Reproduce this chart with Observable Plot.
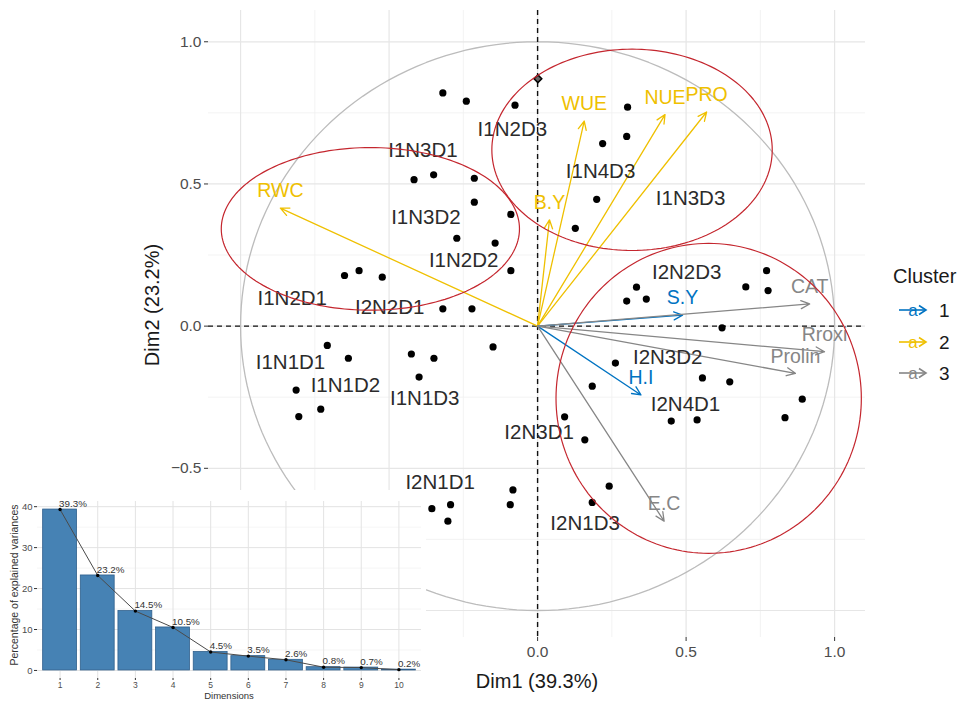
<!DOCTYPE html>
<html><head><meta charset="utf-8">
<script src="https://cdn.jsdelivr.net/npm/d3@7"></script>
<script src="https://cdn.jsdelivr.net/npm/@observablehq/plot@0.6"></script>
<style>
body{margin:0;background:#fff;font-family:"Liberation Sans",Arial,sans-serif;}
#wrap{position:relative;width:963px;height:702px;overflow:hidden;background:#fff;}
#main{position:absolute;left:0;top:0;}
#inset{position:absolute;left:0;top:490px;width:426px;height:212px;background:#fff;overflow:hidden;}
.t{position:absolute;white-space:nowrap;color:#1a1a1a;line-height:1;}
.rot{transform:translate(-50%,-50%) rotate(-90deg);}
.ctr{transform:translate(-50%,-50%);}
</style></head><body>
<div id="wrap">
  <div id="main"></div>
  <div class="t ctr" style="left:537px;top:681px;font-size:20px;">Dim1 (39.3%)</div>
  <div class="t rot" style="left:152px;top:305px;font-size:20px;">Dim2 (23.2%)</div>
  <div id="legend"></div>
  <div id="inset">
    <div id="insetPlot"></div>
    <div class="t ctr" style="left:229px;top:206px;font-size:9.5px;color:#333;">Dimensions</div>
    <div class="t rot" style="left:14px;top:95px;font-size:10.5px;color:#333;">Percentage of explained variances</div>
  </div>
</div>
<script>
// ---------- main biplot data ----------
const pointX = [-0.319,-0.240,-0.076,-0.416,-0.350,-0.213,-0.213,-0.090,-0.272,-0.143,-0.090,-0.650,-0.601,-0.523,-0.319,-0.221,0.127,0.303,0.300,0.219,0.199,0.771,0.701,0.776,0.333,0.300,0.366,0.621,-0.708,-0.637,-0.813,-0.730,-0.804,-0.425,-0.349,-0.399,-0.150,-0.356,-0.293,-0.302,-0.083,-0.092,0.262,0.184,0.555,0.647,0.891,0.833,0.450,0.537,0.091,0.159,0.241,0.184];
const pointY = [0.820,0.791,0.777,0.515,0.532,0.520,0.436,0.393,0.309,0.292,0.195,0.178,0.195,0.172,0.061,0.061,0.344,0.770,0.667,0.642,0.446,0.195,0.138,0.125,0.137,0.088,0.095,-0.006,-0.068,-0.113,-0.225,-0.292,-0.318,-0.098,-0.113,-0.179,-0.073,-0.642,-0.628,-0.686,-0.576,-0.628,-0.130,-0.211,-0.182,-0.196,-0.257,-0.322,-0.334,-0.330,-0.319,-0.400,-0.563,-0.620];

const labelNames = ["I1N2D3","I1N3D1","I1N3D2","I1N2D2","I1N2D1","I2N2D1","I1N4D3","I1N3D3","I2N2D3","I2N3D2","I2N4D1","I1N1D1","I1N1D2","I1N1D3","I2N3D1","I2N1D1","I2N1D3"];
const labelX = [-0.085,-0.386,-0.376,-0.249,-0.826,-0.498,0.212,0.515,0.502,0.438,0.498,-0.832,-0.647,-0.380,0.005,-0.328,0.160];
const labelY = [0.691,0.619,0.383,0.230,0.096,0.067,0.543,0.450,0.190,-0.111,-0.274,-0.129,-0.210,-0.253,-0.374,-0.549,-0.695];

const varNames = ["RWC","B.Y","WUE","NUE","PRO","S.Y","H.I","CAT","Rroxi","Prolin","E.C"];
const varX = [-0.866,0.040,0.157,0.429,0.569,0.488,0.348,0.916,0.966,0.868,0.426];
const varY = [0.415,0.374,0.721,0.744,0.753,0.0385,-0.242,0.078,-0.090,-0.166,-0.686];
const varCluster = ["2","2","2","2","2","1","1","3","3","3","3"];
const clusterNames = ["1","2","3"];
const clusterColors = ["#0073C2","#EFC000","#868686"];

const markerX = [0.001], markerY = [0.870];

const ellCx = [-0.563,0.318,0.576];
const ellCy = [0.342,0.620,-0.254];
const ellRx = [0.502,0.472,0.514];
const ellRy = [0.286,0.354,0.545];

const gridMajor = [-1,-0.5,0,0.5,1];
const gridMinor = [-0.75,-0.25,0.25,0.75];
const xTickValues = [0,0.5,1];          // -0.5 and -1.0 lie under the inset
const yTickValues = [-0.5,0,0.5,1];     // -1.0 lies under the inset

// ---------- scree data ----------
const dims = [1,2,3,4,5,6,7,8,9,10];
const explained = [39.3,23.2,14.5,10.5,4.5,3.5,2.6,0.8,0.7,0.2];
const screeTicks = [0,10,20,30,40];
const screeMinor = [5,15,25,35];

// ---------- build tables ----------
const points = pointX.map((x,i)=>({x, y:pointY[i]}));
const labels = labelNames.map((n,i)=>({name:n, x:labelX[i], y:labelY[i]}));
const vars = varNames.map((n,i)=>({name:n, x:varX[i], y:varY[i], cluster:varCluster[i]}));
const markers = markerX.map((x,i)=>({x, y:markerY[i]}));
const circle = d3.range(0, 361, 2).map(a=>({x:Math.cos(a*Math.PI/180), y:Math.sin(a*Math.PI/180)}));
const ellipses = [];
ellCx.forEach((cx,k)=>{
  d3.range(0,361,2).forEach(a=>{
    const t=a*Math.PI/180;
    ellipses.push({k, x:cx+ellRx[k]*Math.cos(t), y:ellCy[k]+ellRy[k]*Math.sin(t)});
  });
});
const font = '"Liberation Sans", Arial, sans-serif';

const main = Plot.plot({
  width: 963, height: 702,
  marginLeft: 208, marginRight: 98, marginTop: 10, marginBottom: 65,
  style: {fontFamily: font, background: "transparent"},
  x: {domain: [-1.108, 1.104]},
  y: {domain: [-1.095, 1.11]},
  color: {domain: clusterNames, range: clusterColors},
  marks: [
    Plot.gridX(gridMinor, {stroke: "#f0f0f0", strokeOpacity: 1, strokeWidth: 0.8}),
    Plot.gridY(gridMinor, {stroke: "#f0f0f0", strokeOpacity: 1, strokeWidth: 0.8}),
    Plot.gridX(gridMajor, {stroke: "#e6e6e6", strokeOpacity: 1, strokeWidth: 1.2}),
    Plot.gridY(gridMajor, {stroke: "#e6e6e6", strokeOpacity: 1, strokeWidth: 1.2}),
    Plot.axisX({ticks: xTickValues, tickFormat: d3.format(".1f"), tickSize: 4, tickPadding: 4, fontSize: 15.5, color: "#4d4d4d", stroke:"#333", label: null}),
    Plot.axisY({ticks: yTickValues, tickFormat: d3.format(".1f"), tickSize: 4, tickPadding: 3, fontSize: 15.5, color: "#4d4d4d", stroke:"#333", label: null}),
    Plot.line(circle, {x: "x", y: "y", stroke: "#bcbcbc", strokeWidth: 1.3}),
    Plot.ruleX([0], {stroke: "#111", strokeWidth: 1.4, strokeDasharray: "5,4"}),
    Plot.ruleY([0], {stroke: "#111", strokeWidth: 1.4, strokeDasharray: "5,4"}),
    Plot.arrow(vars, {x1: 0, y1: 0, x2: "x", y2: "y", stroke: "cluster", strokeWidth: 1.3, headLength: 11, headAngle: 50}),
    Plot.dot(points, {x: "x", y: "y", r: 3.6, fill: "#000"}),
    Plot.dot(markers, {x: "x", y: "y", r: 3.5, symbol: "diamond2", stroke: "#000", strokeWidth: 1.5, fill: "#666"}),
    Plot.text(vars, {x: "x", y: "y", text: "name", fill: "cluster", fontSize: 19.5, dy: -17}),
    Plot.text(labels, {x: "x", y: "y", text: "name", fill: "#2b2b2b", fontSize: 20.5}),
    Plot.line(ellipses, {x: "x", y: "y", z: "k", stroke: "#c4262e", strokeWidth: 1.2})
  ]
});
document.getElementById("main").appendChild(main);

// ---------- legend ----------
const legend = document.getElementById("legend");
legend.innerHTML = `<div class="t" style="left:893px;top:266px;font-size:20px;">Cluster</div>` +
  clusterNames.map((c,i)=>{
    const y = 310 + i*31.5;
    return `<svg style="position:absolute;left:896px;top:${y-10}px" width="34" height="20">
      <line x1="3" y1="10" x2="30" y2="10" stroke="${clusterColors[i]}" stroke-width="1.6"/>
      <polyline points="23,5.5 30,10 23,14.5" fill="none" stroke="${clusterColors[i]}" stroke-width="1.6"/>
      <text x="17" y="16" text-anchor="middle" font-size="17" fill="${clusterColors[i]}" font-family='Liberation Sans, Arial'>a</text>
    </svg><div class="t" style="left:939px;top:${y-9}px;font-size:19px;">${c}</div>`;
  }).join("");

// ---------- inset scree plot ----------
const scree = dims.map((d,i)=>({dim:d, v:explained[i]}));
const inset = Plot.plot({
  width: 426, height: 212,
  marginLeft: 37, marginRight: 5, marginTop: 11, marginBottom: 24,
  style: {fontFamily: font, background: "#fff"},
  x: {domain: [0.4, 10.6]},
  y: {domain: [-1.965, 41.265]},
  marks: [
    Plot.gridY(screeMinor, {stroke: "#f0f0f0", strokeOpacity: 1, strokeWidth: 0.7}),
    Plot.gridY(screeTicks, {stroke: "#e3e3e3", strokeOpacity: 1, strokeWidth: 1}),
    Plot.gridX(dims, {stroke: "#e3e3e3", strokeOpacity: 1, strokeWidth: 1}),
    Plot.axisX({ticks: dims, tickFormat: d3.format("d"), tickSize: 2, tickPadding: 1, fontSize: 8.5, color: "#4d4d4d", stroke: "#333", label: null}),
    Plot.axisY({ticks: screeTicks, tickSize: 3, tickPadding: 2, fontSize: 9.5, color: "#4d4d4d", stroke: "#333", label: null}),
    Plot.rect(scree, {x1: d=>d.dim-0.45, x2: d=>d.dim+0.45, y1: 0, y2: "v", fill: "#4682B4", stroke: "#2f5f8c", strokeWidth: 0.8}),
    Plot.line(scree, {x: "dim", y: "v", stroke: "#4a4a4a", strokeWidth: 1}),
    Plot.dot(scree, {x: "dim", y: "v", r: 1.7, fill: "#000"}),
    Plot.text(scree, {x: "dim", y: "v", text: d=>d.v.toFixed(1)+"%", textAnchor: "start", dy: -6, dx: -1, fontSize: 9.8, fill: "#333"})
  ]
});
document.getElementById("insetPlot").appendChild(inset);
</script>
</body></html>
